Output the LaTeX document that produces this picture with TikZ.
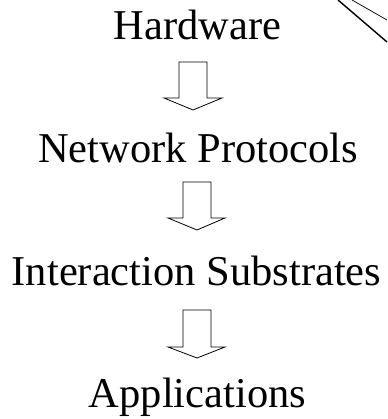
\documentclass[tikz,border=0pt]{standalone}
\usepackage{fontspec}
\setmainfont{Liberation Serif}
\begin{document}
\begin{tikzpicture}[x=1pt,y=-1pt,
    layer/.style={font=\fontsize{42.5}{50}\selectfont, inner sep=0pt, anchor=base},
    blockarrow/.style={draw, line width=0.8pt, line join=miter}]
  \useasboundingbox (0,0) rectangle (387,419);
  \node[layer] (hw) at (197.5,40) {Hardware};
  \node[layer] (np) at (198,163) {Network Protocols};
  \node[layer] (is) at (196.5,285) {Interaction Substrates};
  \node[layer] (app) at (197.5,407) {Applications};
  \begin{scope}[blockarrow]
    \draw (179,62) -- (207,62) -- (207,98) -- (222,98) -- (193,110)
      -- (164,98) -- (179,98) -- cycle;
    \draw (183,182) -- (211,182) -- (211,218) -- (225,218) -- (197,230)
      -- (168,218) -- (183,218) -- cycle;
    \draw (183,310) -- (211,310) -- (211,347) -- (225,347) -- (197,358)
      -- (168,347) -- (183,347) -- cycle;
  \end{scope}
  \coordinate (cut1) at (338,0);
  \coordinate (cut2) at (352,0);
  \draw[line width=1.4pt] (cut1) -- (387,42);
  \draw[line width=0.7pt] (cut2) -- (387,20);
\end{tikzpicture}
\end{document}
